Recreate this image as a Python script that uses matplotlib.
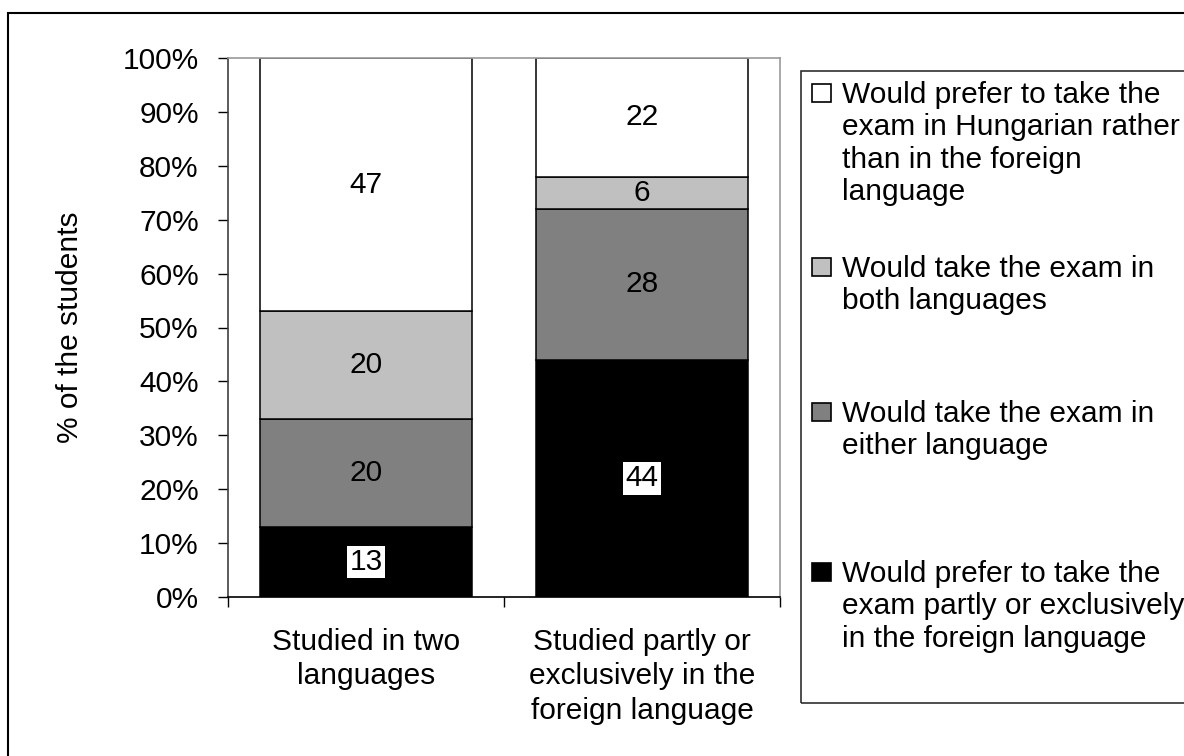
import numpy as np
import matplotlib.pyplot as plt
from matplotlib.patches import Rectangle
from matplotlib.ticker import MultipleLocator, PercentFormatter

categories = ["Studied in two\nlanguages", "Studied partly or\nexclusively in the\nforeign language"]
foreign = [13, 44]
either = [20, 28]
both = [20, 6]
hungarian = [47, 22]
names = [
    "Would prefer to take the\nexam partly or exclusively\nin the foreign language",
    "Would take the exam in\neither language",
    "Would take the exam in\nboth languages",
    "Would prefer to take the\nexam in Hungarian rather\nthan in the foreign\nlanguage",
]
colors = ["black", "#808080", "#C0C0C0", "white"]

plt.rcParams['font.family'] = ['Liberation Sans', 'DejaVu Sans']
plt.rcParams['font.size'] = 21.5

W, H = 1184, 756
fx = lambda px: px / W
fy = lambda py: 1 - py / H

fig = plt.figure(figsize=(W / 100, H / 100), dpi=100)
ax = fig.add_axes([fx(228), fy(597), fx(780) - fx(228), fy(58) - fy(597)])

x = np.arange(len(categories))
bottom = np.zeros(len(categories))
for vals, color in zip([foreign, either, both, hungarian], colors):
    bars = ax.bar(x, vals, width=0.77, bottom=bottom, color=color,
                  edgecolor="black", linewidth=1.1, zorder=2)
    txts = ax.bar_label(bars, label_type="center", fontsize=21.5)
    if color == "black":
        for t in txts:
            t.set_bbox(dict(facecolor="white", edgecolor="none", boxstyle="square,pad=0.08"))
    bottom += np.array(vals)

ax.set_xlim(-0.5, 1.5)
ax.set_ylim(0, 100)
ax.yaxis.set_major_locator(MultipleLocator(10))
ax.yaxis.set_major_formatter(PercentFormatter(decimals=0))
ax.set_xticks(x, categories, linespacing=1.3)
ax.set_xticks([-0.5, 0.5, 1.5], minor=True)
ax.tick_params(axis="x", which="major", length=0, pad=22)
ax.tick_params(axis="x", which="minor", length=7, width=1, direction="out")
ax.tick_params(axis="y", length=7, width=1, direction="out", pad=14)

ax.spines["left"].set_color("#404040")
ax.spines["bottom"].set_color("black")
for s in ["top", "right"]:
    ax.spines[s].set_color("#999999")
for s in ax.spines.values():
    s.set_linewidth(1.2)

ax.set_ylabel("% of the students")
ax.yaxis.set_label_coords(-0.26, 0.5)

# legend drawn by hand, Excel style spacing
fig.add_artist(Rectangle((fx(801), fy(703)), 1, fy(71) - fy(703), transform=fig.transFigure,
                         fill=False, edgecolor="#303030", linewidth=1.2))
baselines = [103, 277, 422, 582]
for name, color, yb in zip(names[::-1], colors[::-1], baselines):
    fig.add_artist(Rectangle((fx(812), fy(yb - 1)), 19 / W, 18 / H, transform=fig.transFigure,
                             facecolor=color, edgecolor="black", linewidth=1.2))
    fig.text(fx(842), fy(yb - 22), name, ha="left", va="top")

# outer chart border
fig.add_artist(Rectangle((fx(8), -0.1), 1.2, fy(13) + 0.1, transform=fig.transFigure,
                         fill=False, edgecolor="black", linewidth=1.5))

fig.savefig("out.png", dpi=100)
